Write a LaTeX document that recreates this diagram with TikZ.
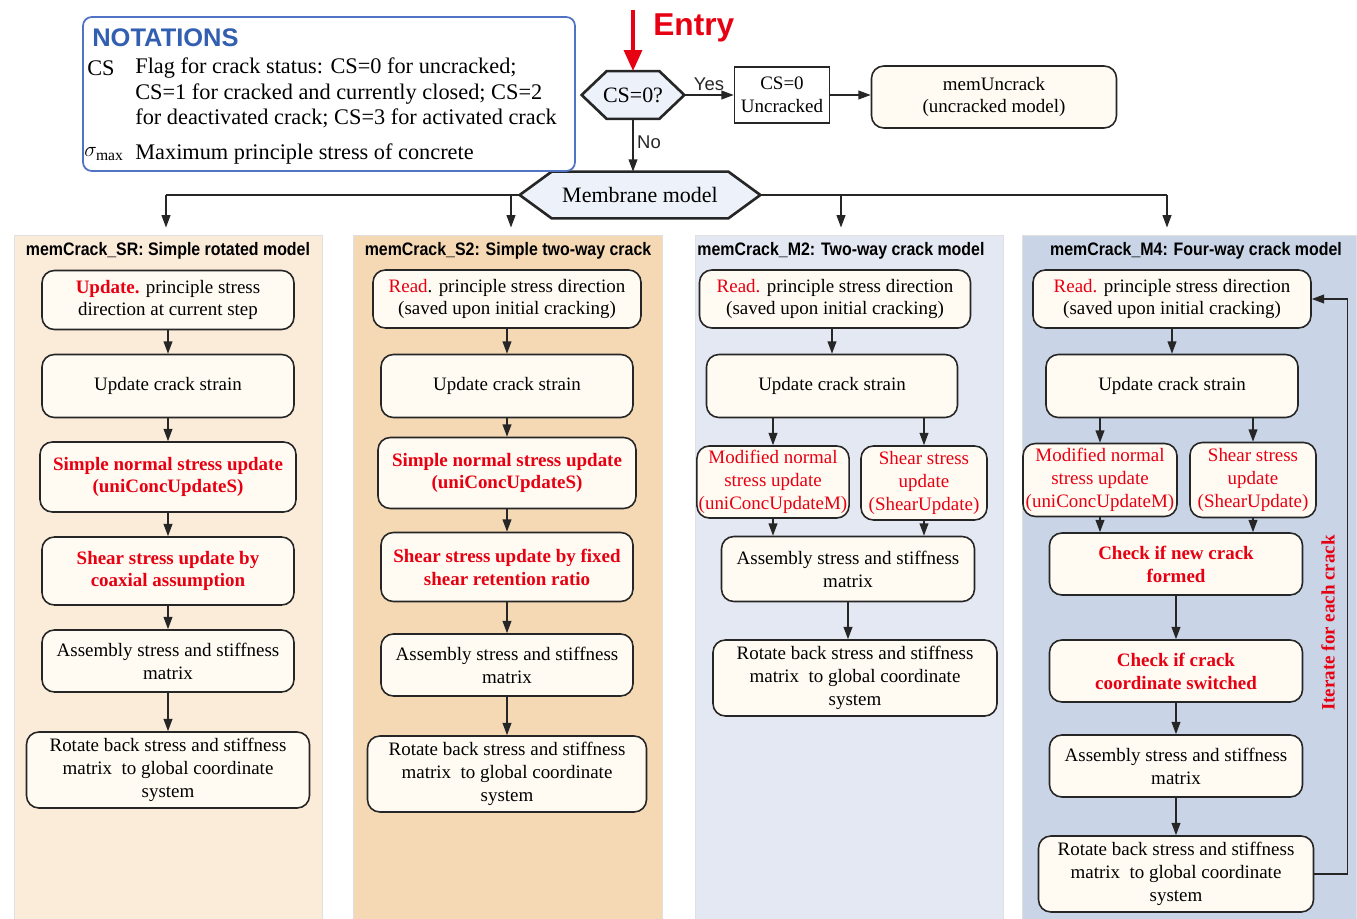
\documentclass[tikz,border=0pt]{standalone}
\usepackage{fontspec}
\setmainfont{Liberation Serif}
\newfontfamily\sansf{Liberation Sans}
\newfontfamily\hdrf[FakeStretch=0.88]{Liberation Sans}
\usetikzlibrary{positioning,arrows.meta,calc,backgrounds}

\definecolor{redc}{RGB}{230,0,18}
\definecolor{noteblue}{RGB}{50,95,175}
\definecolor{noteline}{RGB}{80,115,195}
\definecolor{boxfill}{RGB}{255,251,243}
\definecolor{hexfill}{RGB}{236,241,250}
\definecolor{colSR}{RGB}{251,235,217}
\definecolor{colStwo}{RGB}{245,217,181}
\definecolor{colMtwo}{RGB}{227,232,242}
\definecolor{colMfour}{RGB}{201,213,230}

\newcommand\boxf{\fontsize{10.8}{13}\selectfont}
\newcommand\notef{\fontsize{12.7}{14.7}\selectfont}
\newcommand\bigf{\fontsize{12.5}{14}\selectfont}
\newcommand\rd[1]{\textcolor{redc}{#1}}
% hexagon drawn behind a (borderless) node
\newcommand\hexback[2]{%
  \begin{scope}[on background layer]
  \draw[hexline] (#1.west) -- ($(#1.north west)+(#2,0)$) -- ($(#1.north east)+(-#2,0)$)
    -- (#1.east) -- ($(#1.south east)+(-#2,0)$) -- ($(#1.south west)+(#2,0)$) -- cycle;
  \end{scope}}

\begin{document}
\begin{tikzpicture}[x=0.02cm,y=-0.02cm,font=\boxf,
  sz/.style 2 args={minimum width=#1*0.02cm,minimum height=#2*0.02cm},
  proc/.style={draw=black!85,line width=0.9pt,fill=boxfill,rounded corners=7pt,
    align=center,inner sep=1pt,font=\boxf},
  redb/.style={text=redc,font=\boxf\bfseries},
  redn/.style={text=redc},
  panel/.style={draw=black!12,line width=0.5pt,inner sep=0pt},
  hdr/.style={font=\hdrf\bfseries\fontsize{10.3}{12}\selectfont,inner sep=0pt},
  hexline/.style={draw=black!85,line width=1.5pt,fill=hexfill},
  notebox/.style={draw=noteline,line width=1pt,rounded corners=5pt,fill=white},
  arr/.style={-{Triangle[length=7pt,width=5pt]},line width=0.8pt,black!85},
  entryarr/.style={-{Triangle[length=12pt,width=10pt]},line width=2.5pt,redc},
  flow/.style={line width=0.8pt,black!85},
  lbl/.style={font=\sansf\fontsize{10.5}{12}\selectfont,inner sep=2pt}]
  \useasboundingbox (0,0) rectangle (1357,919);

  % column panels
  \node[panel,fill=colSR,sz={308}{684}] (p1) at (168,577) {};
  \node[panel,fill=colStwo,sz={309}{684}] (p2) at (507.5,577) {};
  \node[panel,fill=colMtwo,sz={308}{684}] (p3) at (849,577) {};
  \node[panel,fill=colMfour,sz={334}{684}] (p4) at (1189,577) {};

  % notations
  \node[notebox,sz={492}{154}] (notes) at (329,94) {};
  \node[anchor=west,text=noteblue,font=\sansf\bfseries\fontsize{14.5}{16}\selectfont,inner sep=0pt] (ntitle) at (92,38) {NOTATIONS};
  \node[anchor=west,inner sep=0pt,font=\notef] (ncs) at (87,68) {CS};
  \node[anchor=west,align=left,inner sep=0pt,font=\notef] (ncsdef) at (135,93)
    {Flag for crack status: CS=0 for uncracked;\\CS=1 for cracked and currently closed; CS=2\\for deactivated crack; CS=3 for activated crack};
  \node[anchor=west,inner sep=0pt,font=\notef] (nsig) at (84,154) {$\sigma_{\max}$};
  \node[anchor=west,inner sep=0pt,font=\notef] (nsigdef) at (135,154) {Maximum principle stress of concrete};

  % entry and crack status check
  \node[inner sep=0pt,sz={102}{47},font=\bigf] (cs) at (633,95) {CS=0?};
  \hexback{cs}{25}
  \coordinate (entry) at (633,10);
  \draw[entryarr] (entry) -- (cs.north);
  \node[anchor=west,text=redc,font=\sansf\bfseries\fontsize{18}{20}\selectfont,inner sep=0pt] (entrylbl) at (653,28) {Entry};
  \node[draw=black!85,line width=0.9pt,fill=white,sz={95}{56},align=center,inner sep=1pt] (unc) at (782,95) {CS=0\\Uncracked};
  \node[proc,sz={245}{62}] (mu) at (994,97) {memUncrack\\(uncracked model)};
  \draw[arr] (cs.east) -- node[above,lbl]{Yes} (unc.west);
  \draw[arr] (unc.east) -- (unc.east -| mu.west);

  \node[inner sep=0pt,sz={240}{46},font=\bigf] (mem) at (640,195) {Membrane model};
  \hexback{mem}{32}
  \draw[arr] (cs.south) -- node[right,lbl,pos=0.45]{No} (cs.south |- mem.north);

  % split to the four models
  \coordinate (j1) at (166,195);
  \coordinate (j2) at (511,195);
  \coordinate (j3) at (841,195);
  \coordinate (j4) at (1167,195);
  \draw[flow] (mem.west) -- (j1);
  \draw[flow] (mem.east) -- (j4);
  \foreach \j/\p in {j1/p1,j2/p2,j3/p3,j4/p4}
    \draw[arr] (\j) -- ([yshift=4pt]\j |- \p.north);

  % headers
  \node[hdr] (h1) at (168,251) {memCrack\_SR: Simple rotated model};
  \node[hdr] (h2) at (508,251) {memCrack\_S2: Simple two-way crack};
  \node[hdr] (h3) at (841,251) {memCrack\_M2: Two-way crack model};
  \node[hdr] (h4) at (1196,251) {memCrack\_M4: Four-way crack model};

  % memCrack_SR
  \node[proc,sz={252}{59}] (a1) at (168,300) {\rd{\bfseries Update.} principle stress\\direction at current step};
  \node[proc,sz={252}{63}] (a2) at (168,386) {Update crack strain};
  \node[proc,redb,sz={256}{70}] (a3) at (168,477) {Simple normal stress update\\(uniConcUpdateS)};
  \node[proc,redb,sz={252}{68}] (a4) at (168,571) {Shear stress update by\\coaxial assumption};
  \node[proc,sz={252}{62}] (a5) at (168,661) {Assembly stress and stiffness\\matrix};
  \node[proc,sz={283}{76}] (a6) at (168,770) {Rotate back stress and stiffness\\matrix\enspace to global coordinate\\system};

  % memCrack_S2
  \node[proc,sz={268}{58}] (b1) at (507,299) {\rd{Read}. principle stress direction\\(saved upon initial cracking)};
  \node[proc,sz={252}{63}] (b2) at (507,386) {Update crack strain};
  \node[proc,redb,sz={258}{71}] (b3) at (507,473) {Simple normal stress update\\(uniConcUpdateS)};
  \node[proc,redb,sz={252}{69}] (b4) at (507,567) {Shear stress update by fixed\\shear retention ratio};
  \node[proc,sz={252}{62}] (b5) at (507,665) {Assembly stress and stiffness\\matrix};
  \node[proc,sz={279}{76}] (b6) at (507,774) {Rotate back stress and stiffness\\matrix\enspace to global coordinate\\system};

  \foreach \a/\b in {a1/a2,a2/a3,a3/a4,a4/a5,a5/a6,b1/b2,b2/b3,b3/b4,b4/b5,b5/b6}
    \draw[arr] (\a.south) -- (\b.north);

  % memCrack_M2
  \node[proc,sz={271}{58}] (c1) at (835,299) {\rd{Read.} principle stress direction\\(saved upon initial cracking)};
  \node[proc,sz={251}{63}] (c2) at (832,386) {Update crack strain};
  \node[proc,redn,sz={152}{72}] (c3) at (773,482) {Modified normal\\stress update\\(uniConcUpdateM)};
  \node[proc,redn,sz={126}{74}] (c4) at (924,483) {Shear stress\\update\\(ShearUpdate)};
  \node[proc,sz={253}{65}] (c5) at (848,569) {Assembly stress and stiffness\\matrix};
  \node[proc,sz={284}{76}] (c6) at (855,678) {Rotate back stress and stiffness\\matrix\enspace to global coordinate\\system};
  \draw[arr] (c1.south -| c2.north) -- (c2.north);
  \draw[arr] (c2.south -| c3.north) -- (c3.north);
  \draw[arr] (c2.south -| c4.north) -- (c4.north);
  \draw[arr] (c3.south) -- (c3.south |- c5.north);
  \draw[arr] (c4.south) -- (c4.south |- c5.north);
  \draw[arr] (c5.south) -- (c5.south |- c6.north);

  % memCrack_M4
  \node[proc,sz={278}{58}] (d1) at (1172,299) {\rd{Read.} principle stress direction\\(saved upon initial cracking)};
  \node[proc,sz={252}{63}] (d2) at (1172,386) {Update crack strain};
  \node[proc,redn,sz={154}{73}] (d3) at (1100,480) {Modified normal\\stress update\\(uniConcUpdateM)};
  \node[proc,redn,sz={126}{75}] (d4) at (1253,480) {Shear stress\\update\\(ShearUpdate)};
  \node[proc,redb,sz={253}{62}] (d5) at (1176,564) {Check if new crack\\formed};
  \node[proc,redb,sz={253}{62}] (d6) at (1176,671) {Check if crack\\coordinate switched};
  \node[proc,sz={253}{62}] (d7) at (1176,766) {Assembly stress and stiffness\\matrix};
  \node[proc,sz={275}{76}] (d8) at (1176,874) {Rotate back stress and stiffness\\matrix\enspace to global coordinate\\system};
  \draw[arr] (d1.south) -- (d2.north);
  \draw[arr] (d2.south -| d3.north) -- (d3.north);
  \draw[arr] (d2.south -| d4.north) -- (d4.north);
  \draw[arr] (d3.south) -- (d3.south |- d5.north);
  \draw[arr] (d4.south) -- (d4.south |- d5.north);
  \foreach \a/\b in {d5/d6,d6/d7,d7/d8}
    \draw[arr] (\a.south) -- (\b.north);
  \draw[arr] (d8.east) -- ++(33,0) |- (d1.east);
  \node[rotate=90,text=redc,font=\boxf\bfseries] (iter) at (1328,623) {Iterate for each crack};
\end{tikzpicture}
\end{document}
